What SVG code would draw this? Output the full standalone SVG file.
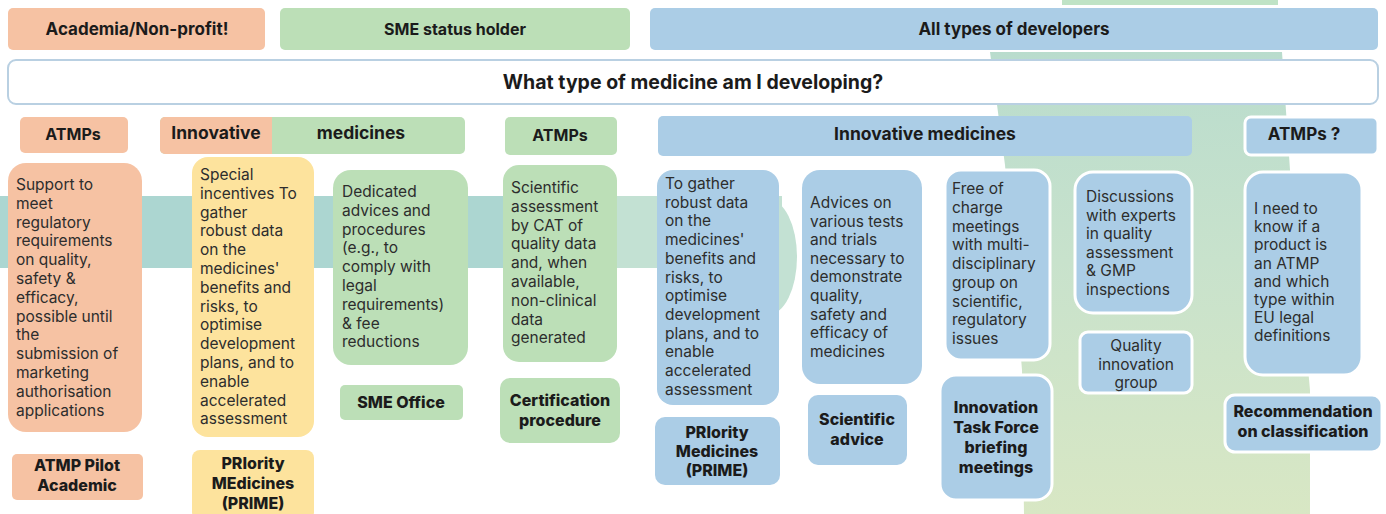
<svg xmlns="http://www.w3.org/2000/svg" width="1386" height="514" viewBox="0 0 1386 514">
<defs>
<linearGradient id="gbg" x1="0" y1="0" x2="0" y2="1">
<stop offset="0" stop-color="#b9dccd"/>
<stop offset="0.45" stop-color="#c8e2cc"/>
<stop offset="1" stop-color="#d8e7c4"/>
</linearGradient>
<style>
.sal{fill:#f6c2a3}
.grn{fill:#bcdfb7}
.yel{fill:#fde39d}
.blu{fill:#abcde6}
.wst{stroke:#ffffff;stroke-width:3}
.h{font-family:Inter,"Liberation Sans",sans-serif;font-weight:700;fill:#1b1b1b;text-anchor:middle}
.b{font-family:Inter,"Liberation Sans",sans-serif;font-weight:400;font-size:15.5px;fill:#2d2d2d}
.bc{font-family:Inter,"Liberation Sans",sans-serif;font-weight:400;font-size:15.5px;fill:#2d2d2d;text-anchor:middle}
.lbl{font-family:Inter,"Liberation Sans",sans-serif;font-weight:800;font-size:16px;fill:#1b1b1b;text-anchor:middle}
</style>
</defs>
<rect width="1386" height="514" fill="#ffffff"/>
<g id="background">
<rect x="1062" y="0" width="216" height="5" fill="#bfe3c6"/>
<polygon points="990,52 1282,52 1290,170 1310,390 1310,514 1024,514 1022,370 1005,165" fill="url(#gbg)"/>
<rect x="0" y="196" width="625" height="72" fill="#acd6d1"/>
<rect x="617" y="196" width="165" height="72" fill="#c3e1d3"/>
<ellipse cx="768" cy="257" rx="29" ry="58" fill="#c3e1d3"/>
</g>
<g id="connectors"></g>
<g id="n-academia"><rect class="sal" x="8" y="8" width="257" height="42" rx="5"/><text class="h" x="137" y="35" font-size="17">Academia/Non-profit!</text></g>
<g id="n-sme-holder"><rect class="grn" x="280" y="8" width="350" height="42" rx="5"/><text class="h" x="455" y="35" font-size="16">SME status holder</text></g>
<g id="n-all-dev"><rect class="blu" x="650" y="8" width="728" height="42" rx="5"/><text class="h" x="1014" y="35" font-size="17">All types of developers</text></g>
<g id="n-question"><rect x="8" y="60" width="1370" height="44" rx="8" fill="#ffffff" stroke="#b9d0e2" stroke-width="2"/><text class="h" x="693" y="89" font-size="19.5">What type of medicine am I developing?</text></g>
<g id="n-atmps-1"><rect class="sal" x="20" y="117" width="108" height="36" rx="5"/><text class="h" x="73" y="140" font-size="16">ATMPs</text></g>
<g id="n-innov-1"><rect class="grn" x="160" y="117" width="305" height="37" rx="5"/><path class="sal" d="M165,117 H272 V154 H165 A5,5 0 0 1 160,149 V122 A5,5 0 0 1 165,117 Z"/><text class="h" x="216" y="139" font-size="17.5">Innovative</text><text class="h" x="361" y="139" font-size="17.5">medicines</text></g>
<g id="n-atmps-2"><rect class="grn" x="505" y="117" width="112" height="38" rx="5"/><text class="h" x="560" y="141" font-size="16">ATMPs</text></g>
<g id="n-innov-2"><rect class="blu" x="658" y="116" width="534" height="40" rx="5"/><text class="h" x="925" y="140" font-size="17.5">Innovative medicines</text></g>
<g id="n-atmps-3"><rect class="blu wst" x="1245" y="117" width="133" height="38" rx="6"/><text class="h" x="1304" y="140" font-size="17">ATMPs ?</text></g>
<g id="n-support"><rect class="sal" x="8" y="163" width="134" height="269" rx="18"/>
<text class="b" x="16" y="190">Support to</text><text class="b" x="16" y="208.8">meet</text><text class="b" x="16" y="227.6">regulatory</text><text class="b" x="16" y="246.4">requirements</text><text class="b" x="16" y="265.2">on quality,</text><text class="b" x="16" y="284">safety &amp;</text><text class="b" x="16" y="302.8">efficacy,</text><text class="b" x="16" y="321.6">possible until</text><text class="b" x="16" y="340.4">the</text><text class="b" x="16" y="359.2">submission of</text><text class="b" x="16" y="378">marketing</text><text class="b" x="16" y="396.8">authorisation</text><text class="b" x="16" y="415.6">applications</text></g>
<g id="n-pilot"><rect class="sal" x="12" y="454" width="131" height="46" rx="5"/><text class="lbl" x="77" y="471" font-size="15">ATMP Pilot</text><text class="lbl" x="77" y="491" font-size="15">Academic</text></g>
<g id="n-special"><rect class="yel" x="192" y="157" width="122" height="280" rx="16"/>
<text class="b" x="200" y="180">Special</text><text class="b" x="200" y="198.8">incentives To</text><text class="b" x="200" y="217.6">gather</text><text class="b" x="200" y="236.4">robust data</text><text class="b" x="200" y="255.2">on the</text><text class="b" x="200" y="274">medicines'</text><text class="b" x="200" y="292.8">benefits and</text><text class="b" x="200" y="311.6">risks, to</text><text class="b" x="200" y="330.4">optimise</text><text class="b" x="200" y="349.2">development</text><text class="b" x="200" y="368">plans, and to</text><text class="b" x="200" y="386.8">enable</text><text class="b" x="200" y="405.6">accelerated</text><text class="b" x="200" y="424.4">assessment</text></g>
<g id="n-prime-1"><rect class="yel" x="192" y="450" width="122" height="70" rx="8"/><text class="lbl" x="253" y="469" font-size="15">PRIority</text><text class="lbl" x="253" y="489" font-size="15">MEdicines</text><text class="lbl" x="253" y="509" font-size="15">(PRIME)</text></g>
<g id="n-dedicated"><rect class="grn" x="333" y="170" width="135" height="195" rx="18"/>
<text class="b" x="342" y="197">Dedicated</text><text class="b" x="342" y="215.8">advices and</text><text class="b" x="342" y="234.6">procedures</text><text class="b" x="342" y="253.4">(e.g., to</text><text class="b" x="342" y="272.2">comply with</text><text class="b" x="342" y="291">legal</text><text class="b" x="342" y="309.8">requirements)</text><text class="b" x="342" y="328.6">&amp; fee</text><text class="b" x="342" y="347.4">reductions</text></g>
<g id="n-sme-office"><rect class="grn" x="340" y="385" width="123" height="35" rx="5"/><text class="lbl" x="401" y="408">SME Office</text></g>
<g id="n-sci-assess"><rect class="grn" x="503" y="165" width="114" height="197" rx="16"/>
<text class="b" x="511" y="193">Scientific</text><text class="b" x="511" y="211.8">assessment</text><text class="b" x="511" y="230.6">by CAT of</text><text class="b" x="511" y="249.4">quality data</text><text class="b" x="511" y="268.2">and, when</text><text class="b" x="511" y="287">available,</text><text class="b" x="511" y="305.8">non-clinical</text><text class="b" x="511" y="324.6">data</text><text class="b" x="511" y="343.4">generated</text></g>
<g id="n-certif"><rect class="grn" x="500" y="378" width="120" height="65" rx="10"/><text class="lbl" x="560" y="406" font-size="16.5">Certification</text><text class="lbl" x="560" y="426" font-size="16.5">procedure</text></g>
<g id="n-gather"><rect class="blu" x="657" y="170" width="122" height="235" rx="16"/>
<text class="b" x="665" y="189">To gather</text><text class="b" x="665" y="207.7">robust data</text><text class="b" x="665" y="226.4">on the</text><text class="b" x="665" y="245.1">medicines'</text><text class="b" x="665" y="263.8">benefits and</text><text class="b" x="665" y="282.5">risks, to</text><text class="b" x="665" y="301.2">optimise</text><text class="b" x="665" y="319.9">development</text><text class="b" x="665" y="338.6">plans, and to</text><text class="b" x="665" y="357.3">enable</text><text class="b" x="665" y="376">accelerated</text><text class="b" x="665" y="394.7">assessment</text></g>
<g id="n-prime-2"><rect class="blu" x="655" y="417" width="125" height="68" rx="10"/><text class="lbl" x="717" y="438">PRIority</text><text class="lbl" x="717" y="457">Medicines</text><text class="lbl" x="717" y="476">(PRIME)</text></g>
<g id="n-advices"><rect class="blu" x="802" y="170" width="120" height="214" rx="18"/>
<text class="b" x="810" y="208">Advices on</text><text class="b" x="810" y="226.6">various tests</text><text class="b" x="810" y="245.2">and trials</text><text class="b" x="810" y="263.8">necessary to</text><text class="b" x="810" y="282.4">demonstrate</text><text class="b" x="810" y="301">quality,</text><text class="b" x="810" y="319.6">safety and</text><text class="b" x="810" y="338.2">efficacy of</text><text class="b" x="810" y="356.8">medicines</text></g>
<g id="n-sci-advice"><rect class="blu" x="808" y="395" width="99" height="70" rx="10"/><text class="lbl" x="857" y="425">Scientific</text><text class="lbl" x="857" y="445">advice</text></g>
<g id="n-free"><rect class="blu wst" x="945" y="170" width="105" height="190" rx="16"/>
<text class="b" x="952" y="194">Free of</text><text class="b" x="952" y="212.75">charge</text><text class="b" x="952" y="231.5">meetings</text><text class="b" x="952" y="250.25">with multi-</text><text class="b" x="952" y="269">disciplinary</text><text class="b" x="952" y="287.75">group on</text><text class="b" x="952" y="306.5">scientific,</text><text class="b" x="952" y="325.25">regulatory</text><text class="b" x="952" y="344">issues</text></g>
<g id="n-itf"><rect class="blu wst" x="940" y="375" width="112" height="125" rx="16"/><text class="lbl" x="996" y="413">Innovation</text><text class="lbl" x="996" y="433">Task Force</text><text class="lbl" x="996" y="453">briefing</text><text class="lbl" x="996" y="473">meetings</text></g>
<g id="n-discuss"><rect class="blu wst" x="1075" y="172" width="117" height="141" rx="18"/>
<text class="b" x="1086" y="202">Discussions</text><text class="b" x="1086" y="220.6">with experts</text><text class="b" x="1086" y="239.2">in quality</text><text class="b" x="1086" y="257.8">assessment</text><text class="b" x="1086" y="276.4">&amp; GMP</text><text class="b" x="1086" y="295">inspections</text></g>
<g id="n-quality"><rect class="blu wst" x="1080" y="332" width="112" height="61" rx="8"/><text class="bc" x="1136" y="351">Quality</text><text class="bc" x="1136" y="369.5">innovation</text><text class="bc" x="1136" y="388">group</text></g>
<g id="n-ineed"><rect class="blu wst" x="1245" y="172" width="117" height="203" rx="18"/>
<text class="b" x="1254" y="214">I need to</text><text class="b" x="1254" y="232.2">know if a</text><text class="b" x="1254" y="250.4">product is</text><text class="b" x="1254" y="268.6">an ATMP</text><text class="b" x="1254" y="286.8">and which</text><text class="b" x="1254" y="305">type within</text><text class="b" x="1254" y="323.2">EU legal</text><text class="b" x="1254" y="341.4">definitions</text></g>
<g id="n-recomm"><rect class="blu wst" x="1225" y="395" width="157" height="57" rx="10"/><text class="lbl" x="1303" y="417">Recommendation</text><text class="lbl" x="1303" y="437">on classification</text></g>
</svg>
